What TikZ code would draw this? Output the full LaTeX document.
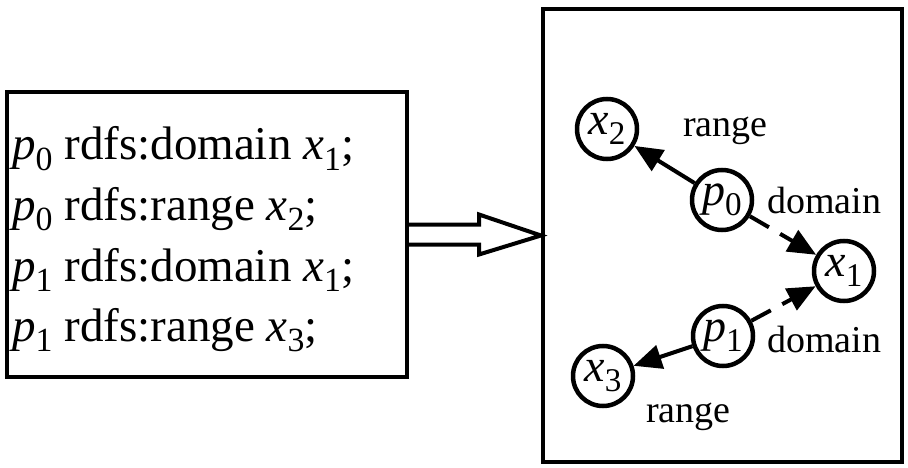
\documentclass[tikz,border=0pt]{standalone}
\usepackage{fontspec}
\setmainfont{Liberation Serif}
\usetikzlibrary{arrows.meta,calc}
\newcommand{\vv}[2]{\textit{#1}\raisebox{-0.22em}{\scalebox{0.72}{#2}}}
\tikzset{
  frame/.style={draw,line width=4pt,inner sep=0pt},
  txtline/.style={anchor=base west,inner sep=0pt,font=\fontsize{47}{55}\selectfont},
  vertex/.style={draw,circle,line width=4.5pt,minimum size=60pt,inner sep=0pt,font=\fontsize{46}{50}\selectfont},
  lbl/.style={anchor=base west,inner sep=0pt,font=\fontsize{38}{46}\selectfont},
  conn/.style={line width=4pt,-{Triangle[length=28pt,width=24pt]}},
  dconn/.style={conn,dash pattern=on 22pt off 13pt on 80pt off 0pt},
  hollow/.style={line width=4pt,line join=miter}
}
\begin{document}
\begin{tikzpicture}[x=1pt,y=-1pt]
\useasboundingbox (0,0) rectangle (908,468);
% left box
\node[frame,minimum width=400pt,minimum height=285pt] (L) at (207,234.5) {};
\node[txtline] (t1) at (12,160) {\vv{p}{0} rdfs:domain \vv{x}{1};};
\node[txtline] (t2) at (12,220) {\vv{p}{0} rdfs:range \vv{x}{2};};
\node[txtline] (t3) at (12,281) {\vv{p}{1} rdfs:domain \vv{x}{1};};
\node[txtline] (t4) at (12,341) {\vv{p}{1} rdfs:range \vv{x}{3};};
% right box
\node[frame,minimum width=359pt,minimum height=453pt] (R) at (722.5,235.5) {};
% hollow arrow
\draw[hollow] ($(L.east)+(0,-10)$) -- ++(70,0) -- ++(0,-10) -- ($(R.west)+(0,0)$) -- ($(L.east)+(70,20)$) -- ++(0,-10) -- ($(L.east)+(0,10)$);
% vertices
\node[vertex] (x2) at (607,129) {\vv{x}{2}};
\node[vertex] (p0) at (722,200) {\vv{p}{0}};
\node[vertex] (x1) at (844,271) {\vv{x}{1}};
\node[vertex] (p1) at (723,336) {\vv{p}{1}};
\node[vertex] (x3) at (603,376) {\vv{x}{3}};
% connectors
\draw[conn] (p0) -- (x2);
\draw[conn] (p1) -- (x3);
\draw[dconn] (p0) -- (x1);
\draw[dconn] (p1) -- (x1);
% labels
\node[lbl] (l1) at (683,137) {range};
\node[lbl] (l2) at (767,213) {domain};
\node[lbl] (l3) at (767,352) {domain};
\node[lbl] (l4) at (646,422) {range};
\end{tikzpicture}
\end{document}
